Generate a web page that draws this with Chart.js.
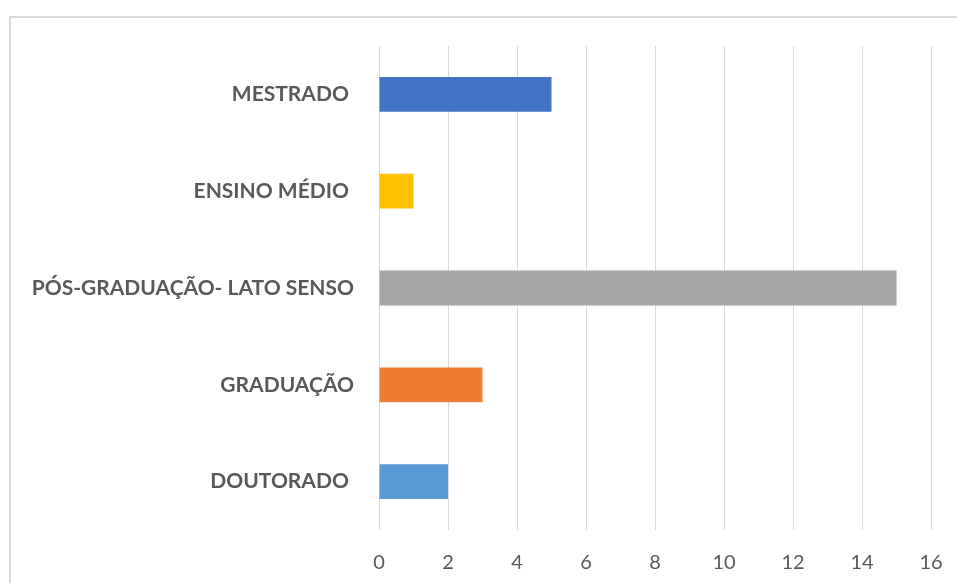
<!DOCTYPE html>
<html>
<head>
<meta charset="utf-8">
<script src="https://cdn.jsdelivr.net/npm/chart.js@4/dist/chart.umd.min.js"></script>
<style>
  html, body { margin: 0; padding: 0; background: #fff; }
  #wrap { position: relative; width: 957px; height: 583px; }
  canvas { display: block; }
</style>
</head>
<body>
<div id="wrap"><canvas id="c" width="957" height="583"></canvas></div>
<script>
const categories = ["MESTRADO ", "ENSINO MÉDIO ", "PÓS-GRADUAÇÃO- LATO SENSO", "GRADUAÇÃO", "DOUTORADO "];
const values = [5, 1, 15, 3, 2];
const xTicks = [0, 2, 4, 6, 8, 10, 12, 14, 16];

const barColors = ["#4472C4", "#FFC000", "#A5A5A5", "#ED7D31", "#5B9BD5"];

const frame = {
  id: 'frame',
  beforeDraw(chart) {
    const ctx = chart.ctx;
    ctx.save();
    ctx.strokeStyle = '#d9d9d9';
    ctx.lineWidth = 2;
    ctx.beginPath();
    ctx.moveTo(10, 600);
    ctx.lineTo(10, 17);
    ctx.lineTo(1000, 17);
    ctx.stroke();
    ctx.restore();
  }
};

new Chart(document.getElementById('c'), {
  type: 'bar',
  data: {
    labels: categories,
    datasets: [{
      data: values,
      backgroundColor: barColors,
      borderWidth: 0,
      barPercentage: 0.72,
      categoryPercentage: 0.5
    }]
  },
  options: {
    indexAxis: 'y',
    responsive: false,
    animation: false,
    layout: { padding: { top: 46, right: 26, bottom: 0, left: 0 } },
    plugins: { legend: { display: false }, tooltip: { enabled: false } },
    scales: {
      x: {
        min: 0, max: 16,
        afterBuildTicks(scale) { scale.ticks = xTicks.map(v => ({ value: v })); },
        afterFit(scale) { scale.height = 53; scale.paddingRight = 0; scale.paddingLeft = 0; },
        grid: { color: '#d9d9d9', lineWidth: 1, drawTicks: false },
        border: { display: false },
        ticks: {
          color: '#595959',
          font: { family: 'Lato', size: 20 },
          padding: 21
        }
      },
      y: {
        afterFit(scale) { scale.width = 379; },
        grid: { display: false, drawTicks: false },
        border: { display: false },
        ticks: {
          color: '#595959',
          font: { family: 'Lato', size: 21, weight: 'bold' },
          padding: 25
        }
      }
    }
  },
  plugins: [frame]
});
</script>
</body>
</html>
